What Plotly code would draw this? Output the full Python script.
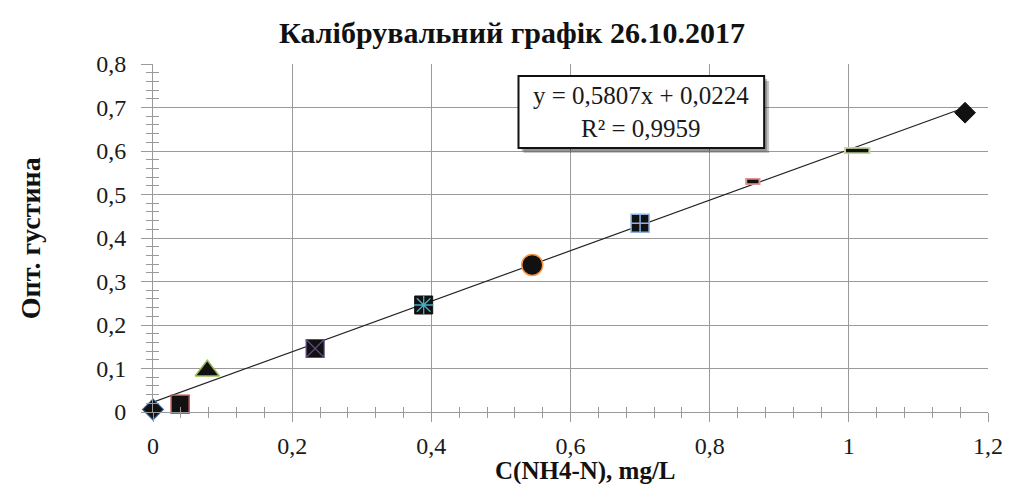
import plotly.graph_objects as go

# Calibration standards: concentration (mg/L) and optical density
conc = [0.0, 0.039, 0.078, 0.233, 0.389, 0.545, 0.700, 0.862, 1.012, 1.167]
density = [0.006, 0.018, 0.095, 0.146, 0.246, 0.338, 0.434, 0.530, 0.601, 0.688]

# Linear fit reported for the calibration
slope = 0.5807
intercept = 0.0224
r2 = 0.9959

x_ticks = [0, 0.2, 0.4, 0.6, 0.8, 1.0, 1.2]
x_tick_text = ["0", "0,2", "0,4", "0,6", "0,8", "1", "1,2"]
y_ticks = [0, 0.1, 0.2, 0.3, 0.4, 0.5, 0.6, 0.7, 0.8]
y_tick_text = ["0", "0,1", "0,2", "0,3", "0,4", "0,5", "0,6", "0,7", "0,8"]

FONT = "Liberation Serif"
GRID = "#9a9a9a"
INK = "#1a1a1a"

# marker style per standard: (symbol, size, fill, outline colour, outline width)
styles = [
    ("diamond", 16, "#111111", "#2f5f9a", 1.2),
    ("square", 18, "#111111", "#c0504d", 1.5),
    ("triangle-up", 21, "#111111", "#9bbb59", 1.5),
    ("square-x", 18, "#111111", "#5e4b80", 1.2),
    ("square", 18, "#111111", "#111111", 1),
    ("circle", 21, "#111111", "#f79646", 1.5),
    ("square-cross", 18, "#111111", "#8db3e2", 1.5),
    ("line-ew", 11, "#111111", "#d99694", 7),
    ("line-ew", 19, "#111111", "#c3d69b", 7),
    ("diamond", 16, "#111111", "#111111", 1),
]

fig = go.Figure()

# trend line from the fitted equation
x_fit = [conc[0], conc[-1]]
y_fit = [slope * v + intercept for v in x_fit]
fig.add_trace(go.Scatter(x=x_fit, y=y_fit, mode="lines",
                         line=dict(color="#222222", width=1.2),
                         hoverinfo="skip", showlegend=False))

for i, (sym, size, fill, edge, ew) in enumerate(styles):
    fig.add_trace(go.Scatter(
        x=[conc[i]], y=[density[i]], mode="markers", showlegend=False,
        cliponaxis=False,
        marker=dict(symbol=sym, size=size, color=fill,
                    line=dict(color=edge, width=ew))))
    if sym == "line-ew":
        # dark core on top of the coloured outline
        fig.add_trace(go.Scatter(
            x=[conc[i]], y=[density[i]], mode="markers", showlegend=False,
            marker=dict(symbol="line-ew", size=size - 3, color=fill,
                        line=dict(color="#111111", width=3.5))))

# asterisk overlay on the fifth standard
fig.add_trace(go.Scatter(
    x=[conc[4]], y=[density[4]], mode="markers", showlegend=False,
    marker=dict(symbol="asterisk", size=16, color="#4bacc6",
                line=dict(color="#4bacc6", width=1.3))))

axis_common = dict(
    showline=True, linecolor=GRID, linewidth=1, mirror=False,
    zeroline=False, tickfont=dict(family=FONT, size=24, color=INK),
)

fig.update_layout(
    width=1015, height=484,
    margin=dict(l=153, r=19, t=64, b=72),
    paper_bgcolor="white", plot_bgcolor="white",
    title=dict(text="<b>Калібрувальний графік 26.10.2017</b>",
               font=dict(family=FONT, size=30, color="#111111"),
               x=512 / 1015, xanchor="center", y=1 - 32 / 484,
               yanchor="middle"),
    xaxis=dict(range=[0, 1.2], tickvals=x_ticks, ticktext=x_tick_text,
               showgrid=True, gridcolor=GRID, gridwidth=1,
               ticks="outside", ticklen=9, tickcolor=GRID,
               ticklabelstandoff=3,
               minor=dict(dtick=0.04, tick0=0, ticks="outside", ticklen=5,
                          tickcolor=GRID, showgrid=False),
               **axis_common),
    yaxis=dict(range=[0, 0.8], tickvals=y_ticks, ticktext=y_tick_text,
               showgrid=True, gridcolor=GRID, gridwidth=1,
               ticks="outside", ticklen=11, tickcolor=GRID,
               ticklabelstandoff=10,
               minor=dict(dtick=0.02, tick0=0, ticks="outside", ticklen=6,
                          tickcolor=GRID, showgrid=False),
               **axis_common),
    # overlay axes carry the inner half of the crossing tick marks
    xaxis2=dict(overlaying="x", range=[0, 1.2], showticklabels=False,
                showgrid=False, zeroline=False, showline=False,
                tickvals=x_ticks, ticks="inside", ticklen=0, tickcolor=GRID,
                minor=dict(dtick=0.04, tick0=0, ticks="inside", ticklen=5,
                           tickcolor=GRID, showgrid=False)),
    yaxis2=dict(overlaying="y", range=[0, 0.8], showticklabels=False,
                showgrid=False, zeroline=False, showline=False,
                tickvals=y_ticks, ticks="inside", ticklen=0, tickcolor=GRID,
                minor=dict(dtick=0.02, tick0=0, ticks="inside", ticklen=6,
                           tickcolor=GRID, showgrid=False)),
)

# invisible trace binding the overlay axes
fig.add_trace(go.Scatter(x=[0], y=[0], xaxis="x2", yaxis="y2", mode="markers",
                         marker=dict(opacity=0), hoverinfo="skip",
                         showlegend=False))

W, H, L, T = 843, 348, 153, 64
def px(x):
    return (x - L) / W
def py(y):
    return 1 - (y - T) / H

# axis titles
fig.add_annotation(xref="paper", yref="paper", x=px(590), y=py(471),
                   xanchor="center", yanchor="middle", showarrow=False,
                   text="<b>C(NH4-N), mg/L</b>",
                   font=dict(family=FONT, size=25, color="#111111"))
fig.add_annotation(xref="paper", yref="paper", x=px(29), y=py(238),
                   xanchor="center", yanchor="middle", showarrow=False,
                   textangle=-90, text="<b>Опт. густина</b>",
                   font=dict(family=FONT, size=28, color="#111111"))

# equation box with drop shadow
bx0, bx1, by0, by1 = 522, 770, 76, 148
fig.add_shape(type="rect", xref="paper", yref="paper",
              x0=px(bx0 + 5), x1=px(bx1 + 5), y0=py(by1 + 5), y1=py(by0 + 5),
              fillcolor="rgba(0,0,0,0.22)", line=dict(width=0), layer="above")
fig.add_shape(type="rect", xref="paper", yref="paper",
              x0=px(bx0 + 3), x1=px(bx1 + 3), y0=py(by1 + 3), y1=py(by0 + 3),
              fillcolor="rgba(0,0,0,0.25)", line=dict(width=0), layer="above")
fig.add_shape(type="rect", xref="paper", yref="paper",
              x0=px(bx0), x1=px(bx1), y0=py(by1), y1=py(by0),
              fillcolor="white", line=dict(color="#111111", width=2),
              layer="above")
fig.add_annotation(
    xref="paper", yref="paper", x=px((bx0 + bx1) / 2), y=py((by0 + by1) / 2),
    xanchor="center", yanchor="middle",
    text=f"y = {slope:.4f}x + {intercept:.4f}".replace(".", ",")
         + "<br>R² = " + f"{r2:.4f}".replace(".", ","),
    showarrow=False, align="center",
    font=dict(family=FONT, size=25, color=INK))

fig.write_html("out.html")
